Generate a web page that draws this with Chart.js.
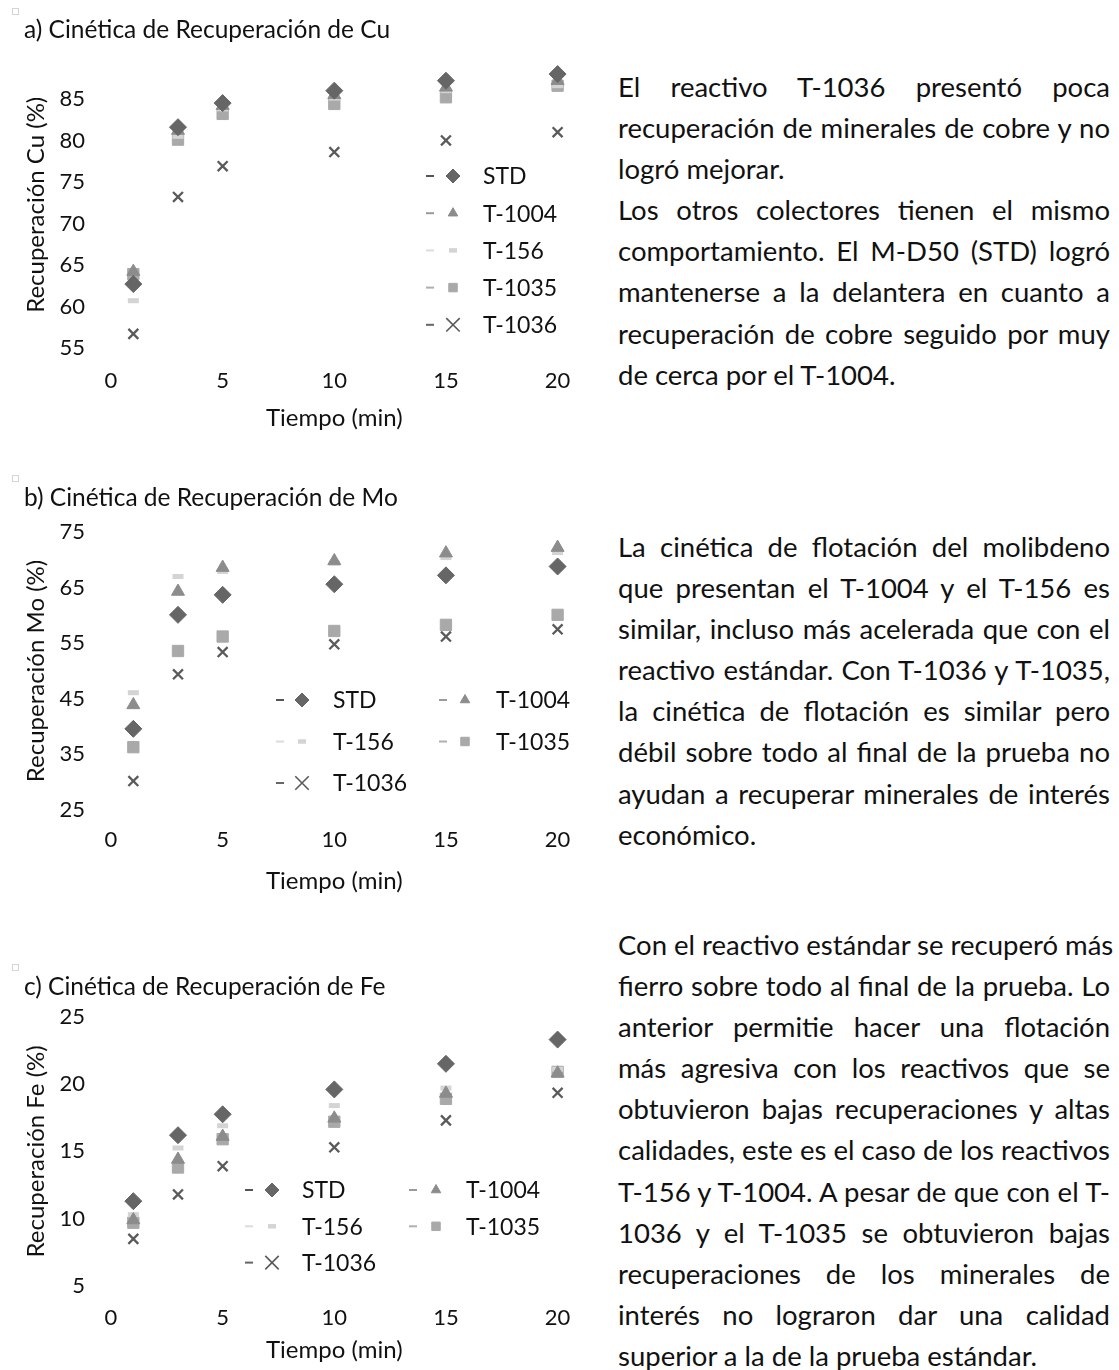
<!DOCTYPE html>
<html lang="es">
<head>
<meta charset="utf-8">
<title>Cinética de recuperación</title>
<script src="https://cdn.jsdelivr.net/npm/chart.js@4.4.0/dist/chart.umd.min.js"></script>
<style>
  html, body { margin: 0; padding: 0; background: #fff; }
  body { width: 1119px; height: 1370px; position: relative; overflow: hidden; font-family: Lato, "Open Sans", sans-serif; color: #111; }
  canvas { position: absolute; left: 0; }
  .anchor { position: absolute; left: 12px; width: 5px; height: 5px; border: 1px solid #d4d4d4; }
  .para { position: absolute; left: 618px; width: 492px; font-size: 27.5px; line-height: 41.1px; }
  .para div { text-align: justify; text-align-last: justify; white-space: nowrap; }
  .para div.last { text-align: left; text-align-last: left; }
</style>
</head>
<body>

<div class="anchor" style="top:8px"></div>
<div class="anchor" style="top:475px"></div>
<div class="anchor" style="top:964px"></div>

<canvas id="chartCu" width="600" height="440" style="top:0px"></canvas>
<canvas id="chartMo" width="600" height="440" style="top:470px"></canvas>
<canvas id="chartFe" width="600" height="415" style="top:955px"></canvas>

<div class="para" style="top:66px">
  <div>El reactivo T-1036 presentó poca</div>
  <div>recuperación de minerales de cobre y no</div>
  <div class="last">logró mejorar.</div>
  <div>Los otros colectores tienen el mismo</div>
  <div>comportamiento. El M-D50 (STD) logró</div>
  <div>mantenerse a la delantera en cuanto a</div>
  <div>recuperación de cobre seguido por muy</div>
  <div class="last">de cerca por el T-1004.</div>
</div>

<div class="para" style="top:526px">
  <div>La cinética de flotación del molibdeno</div>
  <div>que presentan el T-1004 y el T-156 es</div>
  <div>similar, incluso más acelerada que con el</div>
  <div>reactivo estándar. Con T-1036 y T-1035,</div>
  <div>la cinética de flotación es similar pero</div>
  <div>débil sobre todo al final de la prueba no</div>
  <div>ayudan a recuperar minerales de interés</div>
  <div class="last">económico.</div>
</div>

<div class="para" style="top:924px">
  <div>Con el reactivo estándar se recuperó más</div>
  <div>fierro sobre todo al final de la prueba. Lo</div>
  <div>anterior permitie hacer una flotación</div>
  <div>más agresiva con los reactivos que se</div>
  <div>obtuvieron bajas recuperaciones y altas</div>
  <div>calidades, este es el caso de los reactivos</div>
  <div>T-156 y T-1004. A pesar de que con el T-</div>
  <div>1036 y el T-1035 se obtuvieron bajas</div>
  <div>recuperaciones de los minerales de</div>
  <div>interés no lograron dar una calidad</div>
  <div class="last">superior a la de la prueba estándar.</div>
</div>

<script>
// Flotation time (min)
const tiempo = [1, 3, 5, 10, 15, 20];
const seriesNames = ['STD', 'T-1004', 'T-156', 'T-1035', 'T-1036'];

// Copper recovery (%)
const cuSTD  = [62.7, 81.6, 84.5, 86.0, 87.2, 88.0];
const cu1004 = [64.2, 81.2, 84.2, 85.5, 86.4, 87.2];
const cu156  = [60.7, 80.5, 83.8, 85.1, 86.0, 86.6];
const cu1035 = [63.9, 80.1, 83.2, 84.4, 85.2, 86.6];
const cu1036 = [56.7, 73.2, 76.9, 78.6, 80.0, 81.0];

// Molybdenum recovery (%)
const moSTD  = [39.6, 60.1, 63.7, 65.6, 67.2, 68.8];
const mo1004 = [43.9, 64.3, 68.6, 69.8, 71.2, 72.2];
const mo156  = [46.1, 67.0, 67.9, 69.4, 70.4, 71.3];
const mo1035 = [36.3, 53.6, 56.2, 57.2, 58.3, 60.1];
const mo1036 = [30.2, 49.4, 53.4, 54.8, 56.2, 57.5];

// Iron recovery (%)
const feSTD  = [11.3, 16.2, 17.75, 19.6, 21.5, 23.3];
const fe1004 = [9.9, 14.4, 16.1, 17.45, 19.3, 20.8];
const fe156  = [10.3, 15.25, 16.9, 18.4, 19.7, 21.1];
const fe1035 = [9.7, 13.8, 15.9, 17.2, 18.9, 20.9];
const fe1036 = [8.5, 11.8, 13.9, 15.3, 17.3, 19.35];

// Tick labels
const xTickLabels  = [0, 5, 10, 15, 20];
const cuTickLabels = [55, 60, 65, 70, 75, 80, 85];
const moTickLabels = [25, 35, 45, 55, 65, 75];
const feTickLabels = [5, 10, 15, 20, 25];

// Axis ranges
const xRange  = { min: 0, max: 20 };
const cuRange = { min: 55, max: 89.5 };
const moRange = { min: 25, max: 75 };
const feRange = { min: 5, max: 25 };

const FONT = 'Lato, "Open Sans", sans-serif';
const TEXT = '#111';

// Marker look per collector
const markerStyle = {
  'STD':    { pointStyle: 'rectRot',  radius: 8.5, bg: '#666666', border: '#666666', bw: 1,   dash: '#555555', legend: { radius: 7,   bw: 1 } },
  'T-1004': { pointStyle: 'triangle', radius: 7.5, bg: '#8c8c8c', border: '#8c8c8c', bw: 1,   dash: '#9a9a9a', legend: { radius: 5.5, bw: 1 } },
  'T-156':  { pointStyle: 'line',     radius: 5.5, bg: '#d4d4d4', border: '#d4d4d4', bw: 5,   dash: '#dcdcdc', legend: { radius: 4,   bw: 4.5 } },
  'T-1035': { pointStyle: 'rect',     radius: 8,   bg: '#a9a9a9', border: '#a9a9a9', bw: 1,   dash: '#b0b0b0', legend: { radius: 6,   bw: 1 } },
  'T-1036': { pointStyle: 'crossRot', radius: 7,   bg: '#5a5a5a', border: '#5a5a5a', bw: 2.3, dash: '#666666', legend: { radius: 9.5, bw: 1.6 } }
};

function makeDatasets(values) {
  return seriesNames.map((name, i) => {
    const s = markerStyle[name];
    return {
      label: name,
      data: tiempo.map((t, k) => ({ x: t, y: values[i][k] })),
      showLine: false,
      clip: false,
      pointStyle: s.pointStyle,
      pointRadius: s.radius,
      pointHoverRadius: s.radius,
      pointBackgroundColor: s.bg,
      pointBorderColor: s.border,
      pointBorderWidth: s.bw,
      backgroundColor: s.bg,
      borderColor: s.border
    };
  });
}

// In-plot legend: short line sample, marker and name for each collector
const inlineLegend = {
  id: 'inlineLegend',
  afterDatasetsDraw(chart, args, opts) {
    const ctx = chart.ctx;
    ctx.save();
    chart.data.datasets.forEach((ds, i) => {
      const s = markerStyle[ds.label];
      const col = i % opts.cols;
      const row = Math.floor(i / opts.cols);
      const x = opts.x + col * opts.colGap;
      const y = opts.y + row * opts.rowGap;
      ctx.fillStyle = s.dash;
      ctx.fillRect(x - 4, y - 1, 8, 2);
      ctx.fillStyle = s.bg;
      ctx.strokeStyle = s.border;
      ctx.lineWidth = s.legend.bw;
      Chart.helpers.drawPoint(ctx, {
        pointStyle: s.pointStyle, radius: s.legend.radius, borderWidth: s.legend.bw, rotation: 0
      }, x + opts.markerDx, y);
      ctx.fillStyle = TEXT;
      ctx.font = '23px ' + FONT;
      ctx.textAlign = 'left';
      ctx.textBaseline = 'middle';
      ctx.fillText(ds.label, x + opts.textDx, y + 1);
    });
    ctx.restore();
  }
};

function fixedTicks(values) {
  return (scale) => { scale.ticks = values.map(v => ({ value: v })); };
}

// g: vertical placement inside the canvas (title centre, plot top/bottom, tick row, axis title)
function makeChart(id, title, yTitle, values, yRange, yTickLabels, g, legend) {
  const titleSize = 24.5;
  const titleLH = titleSize * 1.2;
  const padTop = g.titleY - titleLH / 2;
  const padLeft = 24;
  const plotLeft = 111, plotRight = 557.6;
  const canvas = document.getElementById(id);
  return new Chart(canvas, {
    type: 'scatter',
    data: { datasets: makeDatasets(values) },
    plugins: [inlineLegend],
    options: {
      responsive: false,
      animation: false,
      devicePixelRatio: 1,
      layout: { padding: { top: padTop, left: padLeft, right: canvas.width - plotRight, bottom: 0 } },
      plugins: {
        legend: { display: false },
        tooltip: { enabled: false },
        title: {
          display: true, text: title, align: 'start', color: TEXT,
          font: { family: FONT, size: titleSize, weight: 'normal', lineHeight: 1.2 },
          padding: { top: 0, bottom: g.top - padTop - titleLH }
        },
        inlineLegend: legend
      },
      scales: {
        x: {
          type: 'linear', min: xRange.min, max: xRange.max,
          border: { display: false },
          grid: { display: false, drawTicks: false },
          afterBuildTicks: fixedTicks(xTickLabels),
          ticks: { color: TEXT, padding: g.labelY - g.bottom - 13.2, font: { family: FONT, size: 22 }, maxRotation: 0, autoSkip: false },
          title: {
            display: true, text: 'Tiempo (min)', color: TEXT,
            font: { family: FONT, size: 24, lineHeight: 1.2 },
            padding: { top: 0, bottom: canvas.height - g.axisTitleY - 14.4 }
          },
          afterFit(scale) { scale.height = canvas.height - g.bottom; }
        },
        y: {
          type: 'linear', min: yRange.min, max: yRange.max,
          border: { display: false },
          grid: { display: false, drawTicks: false },
          afterBuildTicks: fixedTicks(yTickLabels),
          ticks: { color: TEXT, padding: 26, font: { family: FONT, size: 22 }, autoSkip: false },
          title: {
            display: true, text: yTitle, color: TEXT,
            font: { family: FONT, size: 24, lineHeight: 1.0 },
            padding: { top: 0, bottom: 0 }
          },
          afterFit(scale) { scale.width = plotLeft - padLeft; }
        }
      }
    }
  });
}

makeChart('chartCu', 'a) Cinética de Recuperación de Cu', 'Recuperación Cu (%)',
  [cuSTD, cu1004, cu156, cu1035, cu1036], cuRange, cuTickLabels,
  { titleY: 30, top: 61.6, bottom: 348, labelY: 381, axisTitleY: 418 },
  { x: 430, y: 176, cols: 1, colGap: 0, rowGap: 37.2, markerDx: 23, textDx: 53 });

makeChart('chartMo', 'b) Cinética de Recuperación de Mo', 'Recuperación Mo (%)',
  [moSTD, mo1004, mo156, mo1035, mo1036], moRange, moTickLabels,
  { titleY: 28, top: 62, bottom: 340, labelY: 370, axisTitleY: 411 },
  { x: 280, y: 230, cols: 2, colGap: 163, rowGap: 41.5, markerDx: 22, textDx: 53 });

makeChart('chartFe', 'c) Cinética de Recuperación de Fe', 'Recuperación Fe (%)',
  [feSTD, fe1004, fe156, fe1035, fe1036], feRange, feTickLabels,
  { titleY: 31.7, top: 61.7, bottom: 331, labelY: 362.7, axisTitleY: 395 },
  { x: 249, y: 235, cols: 2, colGap: 164, rowGap: 36.3, markerDx: 23, textDx: 53 });
</script>
</body>
</html>
